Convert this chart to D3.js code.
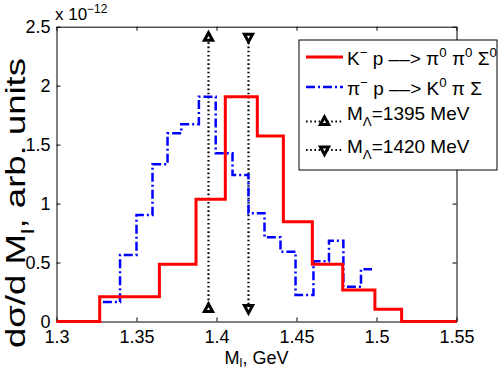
<!DOCTYPE html>
<html>
<head>
<meta charset="utf-8">
<script src="https://cdn.jsdelivr.net/npm/d3@7/dist/d3.min.js"></script>
<style>
  html, body { margin: 0; padding: 0; background: #fff; }
  svg { display: block; font-family: "Liberation Sans", Arial, sans-serif; }
</style>
</head>
<body>
<svg id="chart" width="500" height="371"></svg>
<script>
// ---- data ----
const xTicks = [1.3, 1.35, 1.4, 1.45, 1.5, 1.55];
const xTickLabels = ["1.3", "1.35", "1.4", "1.45", "1.5", "1.55"];
const yTicks = [0, 0.5, 1, 1.5, 2, 2.5];
const yTickLabels = ["0", "0.5", "1", "1.5", "2", "2.5"];

// K- p --> pi0 pi0 Sigma0 (red, solid): bin edges and bin heights (x 1e-12)
const redEdges = [1.3, 1.327, 1.3643, 1.3872, 1.4055, 1.4255, 1.4418, 1.4599, 1.4789, 1.499, 1.5157, 1.55];
const redValues = [0, 0.21, 0.485, 1.036, 1.907, 1.573, 0.846, 0.485, 0.267, 0.103, 0];

// pi- p --> K0 pi Sigma (blue, dash-dot)
const blueEdges = [1.329, 1.3397, 1.35, 1.36, 1.3694, 1.378, 1.389, 1.3995, 1.41, 1.42, 1.43, 1.44, 1.4494, 1.4606, 1.4703, 1.4793, 1.4903, 1.4972];
const blueValues = [0.165, 0.565, 0.903, 1.333, 1.596, 1.672, 1.907, 1.426, 1.243, 0.918, 0.714, 0.592, 0.225, 0.51, 0.685, 0.295, 0.443];

// Lambda(1405) mass markers
const markerMasses = [1.395, 1.42];
const markerKinds = ["up", "down"];
const markerY = [0.11, 2.41];

const legendLabels = [
  [{t: "K"}, {t: "\u2212", s: "sup"}, {t: " p \u2013\u2013> \u03c0"}, {t: "0", s: "sup"}, {t: " \u03c0"}, {t: "0", s: "sup"}, {t: " \u03a3"}, {t: "0", s: "sup"}],
  [{t: "\u03c0"}, {t: "\u2212", s: "sup"}, {t: " p \u2013\u2013> K"}, {t: "0", s: "sup"}, {t: " \u03c0 \u03a3"}],
  [{t: "M"}, {t: "\u039b", s: "sub"}, {t: "=1395 MeV"}],
  [{t: "M"}, {t: "\u039b", s: "sub"}, {t: "=1420 MeV"}]
];

// ---- drawing ----
const svg = d3.select("#chart");
const x = d3.scaleLinear().domain([1.3, 1.55]).range([56.5, 456.5]);
const y = d3.scaleLinear().domain([0, 2.5]).range([321.5, 26.7]);

// rich text helper (super/subscripts)
function rich(sel, parts, fs, subOff) {
  let cur = 0;
  parts.forEach(p => {
    let target = p.s === "sup" ? -0.42 * fs : p.s === "sub" ? (subOff || 0.33) * fs : 0;
    sel.append("tspan")
      .attr("dy", target - cur)
      .attr("font-size", p.s ? fs * 0.7 : fs)
      .text(p.t);
    cur = target;
  });
}

// axes
const axG = svg.append("g").attr("fill", "none");
axG.append("g").attr("transform", `translate(0,${y(0)})`)
  .call(d3.axisBottom(x).tickValues(xTicks).tickFormat((d, i) => xTickLabels[i]).tickSizeInner(-4).tickSizeOuter(0).tickPadding(9));
axG.append("g").attr("transform", `translate(0,${y(2.5)})`)
  .call(d3.axisTop(x).tickValues(xTicks).tickFormat("").tickSizeInner(-4).tickSizeOuter(0));
axG.append("g").attr("transform", `translate(${x(1.3)},0)`)
  .call(d3.axisLeft(y).tickValues(yTicks).tickFormat((d, i) => yTickLabels[i]).tickSizeInner(-4).tickSizeOuter(0).tickPadding(6));
axG.append("g").attr("transform", `translate(${x(1.55)},0)`)
  .call(d3.axisRight(y).tickValues(yTicks).tickFormat("").tickSizeInner(-4).tickSizeOuter(0));
axG.selectAll(".domain, .tick line").attr("stroke", "#000").attr("stroke-width", 1);
axG.selectAll(".tick text").attr("font-size", 18).attr("fill", "#000")
  .attr("font-family", "'Liberation Sans', Arial, sans-serif");

// exponent label
const ex = svg.append("text").attr("x", 55).attr("y", 20).attr("font-size", 17).attr("fill", "#000");
rich(ex, [{t: "x 10"}, {t: "\u221212", s: "sup"}], 17);

// x label
const xl = svg.append("text").attr("x", x(1.425)).attr("y", 363.5).attr("text-anchor", "middle").attr("font-size", 18);
rich(xl, [{t: "M"}, {t: "l", s: "sub"}, {t: ", GeV"}], 18, 0.22);

// y label
const yl = svg.append("text").attr("transform", "translate(25,203) rotate(-90)")
  .attr("text-anchor", "middle").attr("font-size", 27);
rich(yl, [{t: "d\u03c3/d M"}, {t: "l", s: "sub"}, {t: ", arb. units"}], 27);
yl.attr("textLength", 290).attr("lengthAdjust", "spacingAndGlyphs");

// step lines
const stepLine = d3.line().x(d => x(d[0])).y(d => y(d[1])).curve(d3.curveStepAfter);
function stepPoints(edges, vals) {
  const pts = vals.map((v, i) => [edges[i], v]);
  pts.push([edges[edges.length - 1], vals[vals.length - 1]]);
  return pts;
}

// marker lines
const triUp = "M0,-4.6L4.1,3L-4.1,3Z";
const triDown = "M0,4.6L4.1,-3L-4.1,-3Z";
markerMasses.forEach((m, i) => {
  svg.append("line")
    .attr("x1", x(m)).attr("x2", x(m)).attr("y1", y(markerY[0])).attr("y2", y(markerY[1]))
    .attr("stroke", "#000").attr("stroke-width", 2.2).attr("stroke-dasharray", "1.6,2.6");
  markerY.forEach(v => {
    svg.append("path").attr("d", markerKinds[i] === "up" ? triUp : triDown)
      .attr("transform", `translate(${x(m)},${y(v)})`)
      .attr("fill", "#fff").attr("stroke", "#000").attr("stroke-width", 3).attr("stroke-linejoin", "miter");
  });
});

svg.append("path").datum(stepPoints(blueEdges, blueValues)).attr("d", stepLine)
  .attr("fill", "none").attr("stroke", "#0000ff").attr("stroke-width", 2.5)
  .attr("stroke-dasharray", "9,3,2,3");

svg.append("path").datum(stepPoints(redEdges, redValues)).attr("d", stepLine)
  .attr("fill", "none").attr("stroke", "#ff0000").attr("stroke-width", 3);

// legend
const lg = svg.append("g");
lg.append("rect").attr("x", 299).attr("y", 40).attr("width", 198).attr("height", 130)
  .attr("fill", "#fff").attr("stroke", "#000").attr("stroke-width", 1);
const sampleY = [57, 87, 121.5, 150];
const textY = [64.5, 94.5, 120, 152.5];
const sx1 = 306, sx2 = 343;
lg.append("line").attr("x1", sx1).attr("x2", sx2).attr("y1", sampleY[0]).attr("y2", sampleY[0])
  .attr("stroke", "#ff0000").attr("stroke-width", 3);
lg.append("line").attr("x1", sx1).attr("x2", sx2).attr("y1", sampleY[1]).attr("y2", sampleY[1])
  .attr("stroke", "#0000ff").attr("stroke-width", 2.5).attr("stroke-dasharray", "9,3,2,3");
[2, 3].forEach((k, j) => {
  lg.append("line").attr("x1", sx1).attr("x2", sx2).attr("y1", sampleY[k]).attr("y2", sampleY[k])
    .attr("stroke", "#000").attr("stroke-width", 2).attr("stroke-dasharray", "1.6,2.6");
  lg.append("path").attr("d", markerKinds[j] === "up" ? triUp : triDown)
    .attr("transform", `translate(${(sx1 + sx2) / 2},${sampleY[k]})`)
    .attr("fill", "#fff").attr("stroke", "#000").attr("stroke-width", 3);
});
legendLabels.forEach((parts, i) => {
  const t = lg.append("text").attr("x", 347).attr("y", textY[i]).attr("font-size", 19).attr("fill", "#000");
  rich(t, parts, 19);
});
</script>
</body>
</html>
